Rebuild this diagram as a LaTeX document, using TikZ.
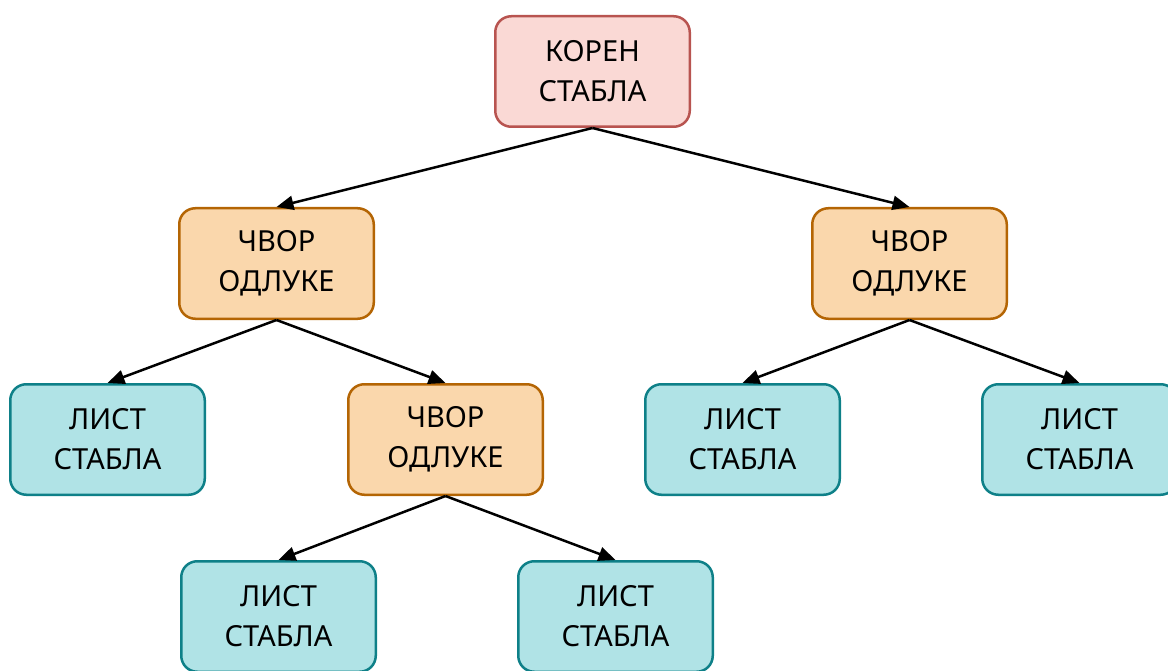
\documentclass[tikz,border=0pt]{standalone}
\usepackage{fontspec}
\setmainfont{Noto Sans}
\usetikzlibrary{arrows.meta}
\definecolor{rootfill}{HTML}{FAD9D5}
\definecolor{rootline}{HTML}{B85450}
\definecolor{splitfill}{HTML}{FAD7AC}
\definecolor{splitline}{HTML}{B46504}
\definecolor{leaffill}{HTML}{B0E3E6}
\definecolor{leafline}{HTML}{0E8088}
\tikzset{
  treebox/.style={draw, line width=2.5pt, rounded corners=16pt, align=center,
    minimum width=194.5pt, minimum height=110.5pt, inner sep=0pt,
    font=\fontsize{29}{40}\selectfont},
  rootbox/.style={treebox, fill=rootfill, draw=rootline},
  splitbox/.style={treebox, fill=splitfill, draw=splitline},
  leafbox/.style={treebox, fill=leaffill, draw=leafline},
  edge/.style={-{Triangle[length=17pt,width=14pt]}, line width=2.5pt}
}
\begin{document}
\begin{tikzpicture}[x=1pt, y=-1pt]
    \useasboundingbox (0,0) rectangle (1168,671);
    \clip (0,0) rectangle (1168,671);

    % Root
    \node[rootbox] (root) at (592.5, 71.5) {КОРЕН\\СТАБЛА};

    % Decision nodes
    \node[splitbox] (splitL) at (276.5, 263.5) {ЧВОР\\ОДЛУКЕ};
    \node[splitbox] (splitR) at (909.5, 263.5) {ЧВОР\\ОДЛУКЕ};
    \node[splitbox] (splitLR) at (445.5, 439.5) {ЧВОР\\ОДЛУКЕ};

    % Leaves
    \node[leafbox] (leafLL) at (107.5, 439.5) {ЛИСТ\\СТАБЛА};
    \node[leafbox] (leafRL) at (742.5, 439.5) {ЛИСТ\\СТАБЛА};
    \node[leafbox] (leafRR) at (1079.5, 439.5) {ЛИСТ\\СТАБЛА};
    \node[leafbox] (leafLRL) at (278.5, 616.5) {ЛИСТ\\СТАБЛА};
    \node[leafbox] (leafLRR) at (615.5, 616.5) {ЛИСТ\\СТАБЛА};

    % Edges
    \draw[edge] (root.south) -- (splitL.north);
    \draw[edge] (root.south) -- (splitR.north);
    \draw[edge] (splitL.south) -- (leafLL.north);
    \draw[edge] (splitL.south) -- (splitLR.north);
    \draw[edge] (splitR.south) -- (leafRL.north);
    \draw[edge] (splitR.south) -- (leafRR.north);
    \draw[edge] (splitLR.south) -- (leafLRL.north);
    \draw[edge] (splitLR.south) -- (leafLRR.north);
\end{tikzpicture}
\end{document}
